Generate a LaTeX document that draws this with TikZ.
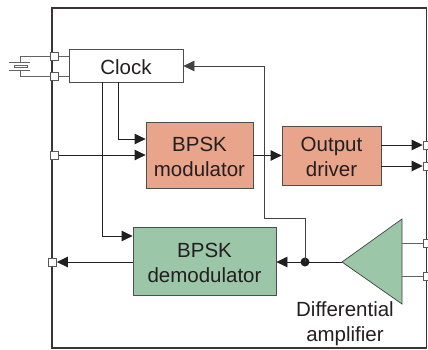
\documentclass[tikz,border=0pt]{standalone}
\usepackage{fontspec}
\setmainfont{Liberation Sans}
\usetikzlibrary{arrows.meta}
\definecolor{salmon}{HTML}{E9A58C}
\definecolor{sage}{HTML}{9BC6A7}
\definecolor{ink}{HTML}{231F20}
\newcommand{\topstrut}{\rule{0pt}{18pt}}
\begin{document}
\begin{tikzpicture}[x=1pt,y=-1pt,
  blockbox/.style={draw=ink!80,line width=0.8pt,inner sep=0pt,align=center,font=\fontsize{20.5}{25}\selectfont,text=ink},
  pin/.style={draw=ink!75,fill=white,line width=0.7pt,minimum size=8pt,inner sep=0pt},
  wire/.style={draw=ink,line width=0.8pt},
  arr/.style={wire,-{Triangle[length=11pt,width=10.5pt]}}]
\useasboundingbox (0,0) rectangle (428,350);
\draw[draw=ink!90,line width=1.3pt] (52,8) rectangle (426.5,348);
% blocks
\node[blockbox,minimum width=114pt,minimum height=33pt,fill=white] (clock) at (126,65.5) {\topstrut Clock};
\node[blockbox,fill=salmon,minimum width=107pt,minimum height=66pt] (mod) at (199.5,155) {\topstrut BPSK\\modulator};
\node[blockbox,fill=salmon,minimum width=99pt,minimum height=59pt] (drv) at (331.5,155.5) {\topstrut Output\\driver};
\node[blockbox,fill=sage,minimum width=143pt,minimum height=68pt] (dem) at (204.5,261) {\topstrut BPSK\\demodulator};
\coordinate (tip) at (342,262);
\coordinate (trt) at (402,219);
\coordinate (trb) at (402,304);
\draw[draw=ink!85,line width=0.7pt,fill=sage] (tip) -- (trt) -- (trb) -- cycle;
\node[font=\fontsize{20.5}{25}\selectfont,text=ink,align=center,inner sep=0pt] (dalab) at (345,324) {Differential\\amplifier};
% pins
\node[pin] (p1) at (54.5,56) {};
\node[pin] (p2) at (54.5,76) {};
\node[pin] (p3) at (54.5,155) {};
\node[pin] (p4) at (52.5,262) {};
\node[pin] (r1) at (427,145) {};
\node[pin] (r2) at (427,166) {};
\node[pin] (r3) at (427,243) {};
\node[pin] (r4) at (427,276) {};
% crystal
\coordinate (ct) at (20,56); \coordinate (cb) at (20,76);
\coordinate (ct2) at (20,63); \coordinate (cb2) at (20,70);
\draw[draw=ink!70,line width=0.7pt] (p1.west) -- (ct) -- (ct2) (p2.west) -- (cb) -- (cb2);
\draw[draw=ink!70,line width=0.7pt] (9,62.5) -- (30,62.5) (9,70) -- (30,70);
\draw[draw=ink!70,line width=0.7pt,fill=white] (14,65) rectangle (27,67.5);
\draw[draw=ink!70,line width=0.7pt] (p1.east) -- (clock.west |- p1) (p2.east) -- (clock.west |- p2);
% wires
\coordinate (a) at (118,139);
\draw[arr] (clock.south -| a) -- (a) -- (mod.west |- a);
\draw[arr] (p3.east) -- (mod.west |- p3);
\coordinate (b) at (102,236);
\draw[arr] (clock.south -| b) -- (b) -- (dem.west |- b);
\draw[arr] (mod.east |- drv) -- (drv.west);
\draw[arr] (drv.east |- r1) -- (r1.west);
\draw[arr] (drv.east |- r2) -- (r2.west);
\draw[arr] (tip) -- (dem.east |- tip);
\draw[arr] (dem.west |- p4) -- (p4.east);
\coordinate (j) at (305,262);
\fill[ink] (j) circle (4.5pt);
\coordinate (u) at (305,218);
\coordinate (v) at (264,218);
\coordinate (w) at (264,66);
\draw[arr,draw=ink!85] (j) -- (u) -- (v) -- (w) -- (clock.east |- w);
\draw[draw=ink!70,line width=0.7pt] (trt |- r3) -- (r3.west) (trt |- r4) -- (r4.west);
\end{tikzpicture}
\end{document}
